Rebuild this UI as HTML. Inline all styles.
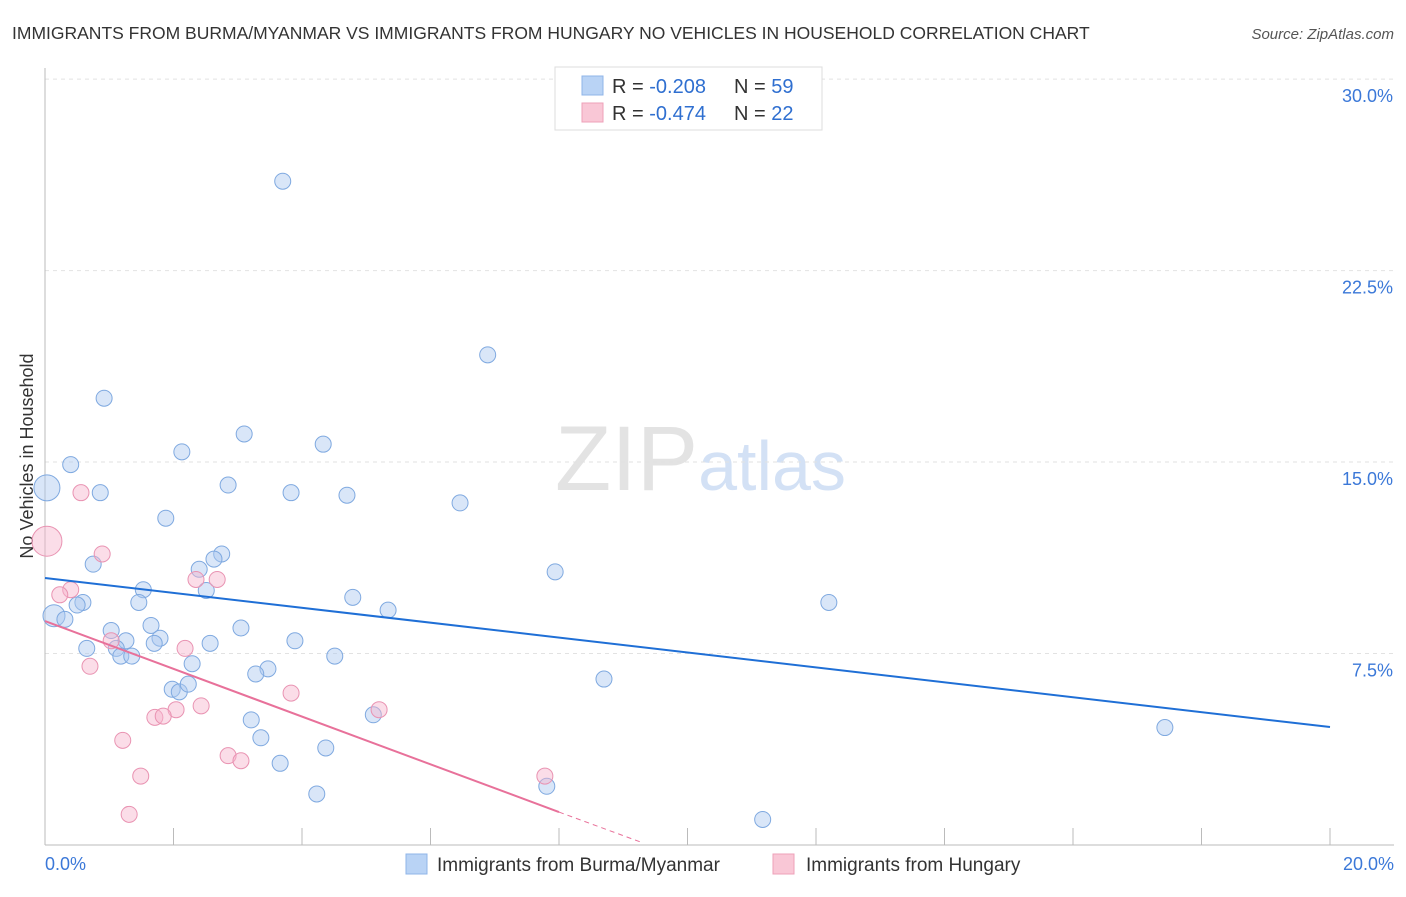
<!DOCTYPE html>
<html><head><meta charset="utf-8"><style>
body{margin:0;background:#fff;font-family:"Liberation Sans",sans-serif;}
svg text{font-family:"Liberation Sans",sans-serif;}
</style></head><body>
<svg id="chart" width="1406" height="892" xmlns="http://www.w3.org/2000/svg">
<text x="12" y="39" font-size="17.5" fill="#333">IMMIGRANTS FROM BURMA/MYANMAR VS IMMIGRANTS FROM HUNGARY NO VEHICLES IN HOUSEHOLD CORRELATION CHART</text>
<text x="1394" y="39" font-size="15" fill="#555" font-style="italic" text-anchor="end">Source: ZipAtlas.com</text>
<text x="555" y="490" font-size="92" fill="#ddd" font-family="Liberation Serif" opacity="0.8">ZIP<tspan fill="#c9daf3" font-family="Liberation Sans" font-size="70">atlas</tspan></text>
<text transform="translate(33,456) rotate(-90)" font-size="18" fill="#333" text-anchor="middle">No Vehicles in Household</text>
<g id="grid"></g><g id="axes"></g><g id="pts"></g><g id="lines"></g>
<g>
<rect x="555" y="67" width="267" height="63" fill="#fff" stroke="#ddd"/>
<rect x="582" y="76" width="21" height="19" fill="#b9d3f5" stroke="#8fb5e8"/>
<text x="612" y="93" font-size="20" fill="#333">R = <tspan fill="#2f6fd0">-0.208</tspan>  <tspan x="734">N = </tspan><tspan fill="#2f6fd0">59</tspan></text>
<rect x="582" y="103" width="21" height="19" fill="#f9c7d6" stroke="#eea0b8"/>
<text x="612" y="120" font-size="20" fill="#333">R = <tspan fill="#2f6fd0"> -0.474</tspan>  <tspan x="734">N = </tspan><tspan fill="#2f6fd0">22</tspan></text>
</g>
<g>
<rect x="406" y="854" width="21" height="20" fill="#b9d3f5" stroke="#8fb5e8"/>
<text x="437" y="871" font-size="19" fill="#333">Immigrants from Burma/Myanmar</text>
<rect x="773" y="854" width="21" height="20" fill="#f9c7d6" stroke="#eea0b8"/>
<text x="806" y="871" font-size="19" fill="#333">Immigrants from Hungary</text>
</g>
</svg>
<script>
const yTicks=[7.5,15,22.5,30];
const yTickLabels=["7.5%","15.0%","22.5%","30.0%"];
const xTickLabels=["0.0%","20.0%"];
const blueX=[3.70,6.89,0.92,0.40,3.10,2.13,4.33,0.03,0.86,2.85,3.83,4.70,6.46,1.88,2.75,2.63,0.75,2.40,7.94,1.53,2.51,0.14,0.31,0.59,0.50,1.46,4.79,5.34,12.20,1.65,1.03,3.05,1.26,1.79,1.70,2.57,3.89,1.11,0.65,1.18,1.35,4.51,2.29,3.47,3.28,8.70,1.98,2.09,2.23,5.11,3.21,3.36,4.37,3.66,4.23,7.81,11.17,17.43];
const blueY=[26.0,19.2,17.5,14.9,16.1,15.4,15.7,13.99,13.8,14.1,13.8,13.7,13.4,12.8,11.4,11.2,11.0,10.8,10.7,10.0,9.97,8.98,8.84,9.5,9.4,9.5,9.7,9.2,9.5,8.6,8.4,8.5,8.0,8.1,7.9,7.9,8.0,7.7,7.7,7.4,7.4,7.4,7.1,6.9,6.7,6.5,6.1,6.0,6.3,5.1,4.9,4.2,3.8,3.2,2.0,2.3,1.0,4.6];
const blueR=[8,8,8,8,8,8,8,13,8,8,8,8,8,8,8,8,8,8,8,8,8,11,8,8,8,8,8,8,8,8,8,8,8,8,8,8,8,8,8,8,8,8,8,8,8,8,8,8,8,8,8,8,8,8,8,8,8,8];
const pinkX=[0.03,0.56,0.89,0.40,0.23,2.35,2.68,1.03,2.18,0.70,3.83,2.43,2.04,1.71,1.84,5.20,2.85,3.05,1.21,1.49,1.31,7.78];
const pinkY=[11.9,13.8,11.4,10.0,9.8,10.4,10.4,8.0,7.7,7.0,5.95,5.45,5.3,5.0,5.05,5.3,3.5,3.3,4.1,2.7,1.2,2.7];
const pinkR=[15,8,8,8,8,8,8,8,8,8,8,8,8,8,8,8,8,8,8,8,8,8];
const blueLine=[[0,10.46],[20,4.62]];
const pinkLine=[[0,8.77],[8,1.29]];
const pinkDash=[[8,1.29],[9.31,0.08]];
const NS="http://www.w3.org/2000/svg";
const X=v=>45+v*64.25, Y=v=>845-v*25.53;
function mk(t,a,p){const e=document.createElementNS(NS,t);for(const k in a)e.setAttribute(k,a[k]);document.getElementById(p).appendChild(e);return e;}
yTicks.forEach((t,i)=>{
 const g=mk('line',{x1:45,x2:1394,y1:Y(t),y2:Y(t),stroke:'#e2e2e2','stroke-dasharray':'4 4'},'grid');
 
 
 const l=mk('text',{x:1393,y:Y(t)+23,'font-size':18,fill:'#3b78d8','text-anchor':'end'},'axes');l.textContent=yTickLabels[i];
 
 
});
const ax=mk('line',{x1:45,x2:45,y1:68,y2:845,stroke:'#bbb'},'axes');


const bx=mk('line',{x1:45,x2:1394,y1:845,y2:845,stroke:'#bbb'},'axes');


for(let i=0;i<=10;i++){const t=mk('line',{x1:X(i*2),x2:X(i*2),y1:828,y2:845,stroke:'#bbb'},'axes');
 
 }
[[0,'start',45],[20,'end',1394]].forEach((d,i)=>{const t=mk('text',{x:d[2],y:870,'font-size':18,fill:'#3b78d8','text-anchor':d[1]},'axes');t.textContent=xTickLabels[i];
 
 });
blueX.forEach((v,i)=>{const c=mk('circle',{cx:X(v),cy:Y(blueY[i]),r:blueR[i],fill:'rgba(170,200,240,0.45)',stroke:'#7fa9e0','stroke-width':1},'pts');
 
 });
pinkX.forEach((v,i)=>{const c=mk('circle',{cx:X(v),cy:Y(pinkY[i]),r:pinkR[i],fill:'rgba(246,180,204,0.45)',stroke:'#e993b2','stroke-width':1},'pts');
 
 });
const b=mk('line',{x1:X(blueLine[0][0]),y1:Y(blueLine[0][1]),x2:X(blueLine[1][0]),y2:Y(blueLine[1][1]),stroke:'#1f6fd6','stroke-width':2},'lines');


const p=mk('line',{x1:X(pinkLine[0][0]),y1:Y(pinkLine[0][1]),x2:X(pinkLine[1][0]),y2:Y(pinkLine[1][1]),stroke:'#e8719a','stroke-width':2},'lines');


const pd=mk('line',{x1:X(pinkDash[0][0]),y1:Y(pinkDash[0][1]),x2:X(pinkDash[1][0]),y2:Y(pinkDash[1][1]),stroke:'#e8719a','stroke-width':1,'stroke-dasharray':'5 4'},'lines');


</script>
</body></html>
